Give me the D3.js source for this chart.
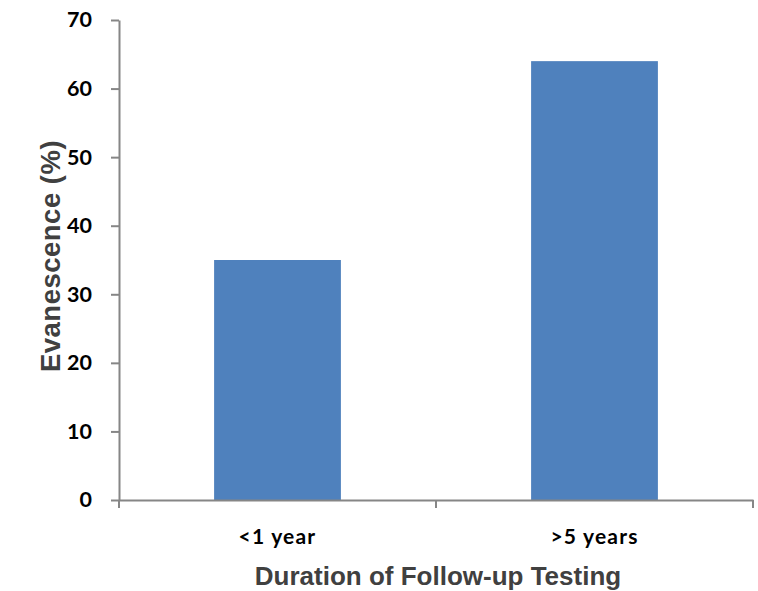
<!DOCTYPE html>
<html><head><meta charset="utf-8">
<script src="https://cdn.jsdelivr.net/npm/d3@7"></script>
<style>body{margin:0;background:#fff}</style>
</head><body>
<script>
const categories = ["<1 year", ">5 years"];
const values = [35, 64];
const yTicks = [0, 10, 20, 30, 40, 50, 60, 70];
const yTitle = "Evanescence (%)";
const xTitle = "Duration of Follow-up Testing";

const W = 758, H = 591;
const m = {left: 119, right: 5, top: 20, bottom: 91};
const svg = d3.select("body").append("svg").attr("width", W).attr("height", H);
const x = d3.scaleBand().domain(categories).range([m.left, W - m.right]).paddingInner(0.6).paddingOuter(0.3);
const xb = d3.scaleBand().domain(categories).range([m.left, W - m.right]);
const y = d3.scaleLinear().domain([0, 70]).range([H - m.bottom, m.top]);
const axisColor = "#868686";

svg.selectAll("rect.bar").data(values).enter().append("rect")
  .attr("x", (d, i) => x(categories[i]))
  .attr("width", x.bandwidth())
  .attr("y", d => y(d))
  .attr("height", d => y(0) - y(d))
  .attr("fill", "#4f81bd");

// y axis
const ya = svg.append("g").attr("transform", `translate(${m.left},0)`)
  .call(d3.axisLeft(y).tickValues(yTicks).tickSize(8).tickSizeOuter(0).tickPadding(19));
ya.select(".domain").attr("stroke", axisColor).attr("stroke-width", 2);
ya.selectAll(".tick line").attr("stroke", axisColor).attr("stroke-width", 2);
ya.selectAll(".tick text").attr("font-family", "Lato, 'Open Sans', sans-serif").attr("font-weight", "bold")
  .attr("font-size", 21.5).attr("fill", "#000");

// x axis
const xa = svg.append("g").attr("transform", `translate(0,${y(0)})`)
  .call(d3.axisBottom(xb).tickSize(0).tickSizeOuter(0));
xa.select(".domain").attr("stroke", axisColor).attr("stroke-width", 2);
xa.selectAll(".tick line").remove();
const bounds = [m.left, ...categories.slice(1).map(c => xb(c)), W - m.right];
xa.selectAll("line.sep").data(bounds).enter().append("line")
  .attr("x1", d => d).attr("x2", d => d).attr("y1", 0).attr("y2", 8)
  .attr("stroke", axisColor).attr("stroke-width", 2);
xa.selectAll(".tick text").attr("font-family", "Lato, 'Open Sans', sans-serif").attr("font-weight", "bold")
  .attr("font-size", 21).attr("letter-spacing", 1.2).attr("fill", "#000").attr("dy", null).attr("y", 44);

svg.append("text").attr("x", (m.left + W - m.right) / 2 + 2).attr("y", 585)
  .attr("text-anchor", "middle").attr("font-family", "'Liberation Sans', Arial, sans-serif")
  .attr("font-weight", "bold").attr("font-size", 26).attr("fill", "#404040").text(xTitle);
svg.append("text").attr("transform", `translate(60,${(m.top + H - m.bottom) / 2 - 4}) rotate(-90)`)
  .attr("text-anchor", "middle").attr("font-family", "'Liberation Sans', Arial, sans-serif")
  .attr("font-weight", "bold").attr("font-size", 27.5).attr("letter-spacing", 0.5).attr("fill", "#404040").text(yTitle);
</script>
</body></html>
